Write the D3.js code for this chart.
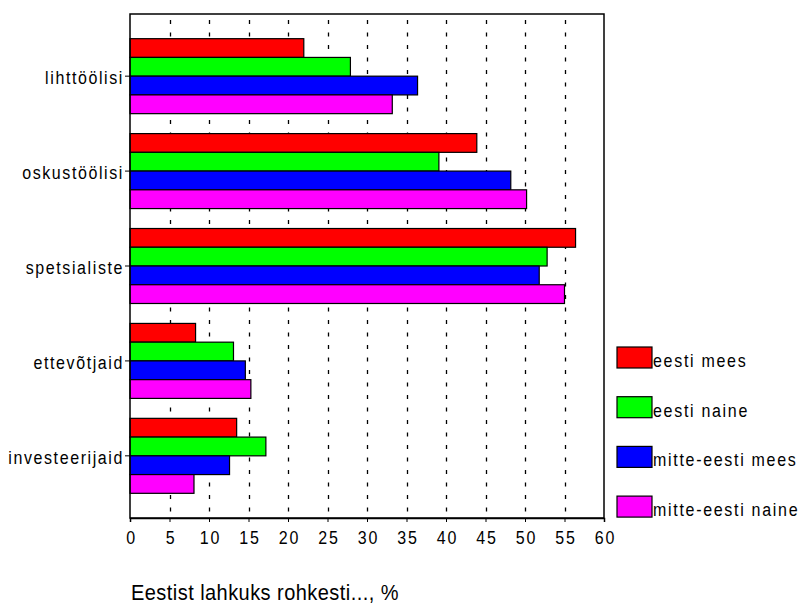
<!DOCTYPE html>
<html>
<head>
<meta charset="utf-8">
<script src="https://cdn.jsdelivr.net/npm/d3@7"></script>
<style>
  body { margin: 0; background: #fff; }
  text { font-family: "Liberation Sans", Arial, sans-serif; fill: #000; }
</style>
</head>
<body>
<svg id="chart"></svg>
<script>
const categories = ['lihttöölisi', 'oskustöölisi', 'spetsialiste', 'ettevõtjaid', 'investeerijaid']
const series = ['eesti mees', 'eesti naine', 'mitte-eesti mees', 'mitte-eesti naine']
const colors = ['#ff0000', '#00ff00', '#0000ff', '#ff00ff']
const eestiMees = [22.0, 43.9, 56.4, 8.3, 13.5]
const eestiNaine = [27.9, 39.1, 52.8, 13.1, 17.2]
const mitteEestiMees = [36.4, 48.2, 51.8, 14.6, 12.6]
const mitteEestiNaine = [33.2, 50.2, 55.0, 15.3, 8.1]
const xTicks = [0, 5, 10, 15, 20, 25, 30, 35, 40, 45, 50, 55, 60]
const xTitle = 'Eestist lahkuks rohkesti..., %'

const values = [eestiMees, eestiNaine, mitteEestiMees, mitteEestiNaine]

const width = 804
const height = 604
const margin = { left: 130, top: 14, right: 200, bottom: 86 }
const font = '"Liberation Sans", Arial, sans-serif'
const stretch = 'scale(1,1.13)' // the original text is drawn a bit tall

const svg = d3.select('#chart').attr('width', width).attr('height', height)

const x = d3.scaleLinear().domain([0, 60]).range([margin.left, width - margin.right + 0])
const y = d3.scaleBand().domain(categories)
  .range([margin.top, height - margin.bottom])
  .paddingInner(0.21).paddingOuter(0.26)
const ySub = d3.scaleBand().domain(series).range([0, y.bandwidth()])

// dashed vertical grid
svg.append('g')
  .selectAll('line')
  .data(xTicks.filter(t => t > 0 && t < 60))
  .enter().append('line')
  .attr('x1', d => Math.round(x(d)) + 0.5)
  .attr('x2', d => Math.round(x(d)) + 0.5)
  .attr('y1', margin.top)
  .attr('y2', height - margin.bottom)
  .attr('stroke', '#000')
  .attr('stroke-width', 1.3)
  .attr('stroke-dasharray', '4,8.5')
  .attr('stroke-dashoffset', -6)

// bars
const groups = svg.append('g')
  .selectAll('g')
  .data(categories)
  .enter().append('g')
  .attr('transform', d => `translate(0,${y(d)})`)

groups.selectAll('rect')
  .data((d, i) => series.map((s, j) => ({ s, j, v: values[j][i] })))
  .enter().append('rect')
  .attr('x', x(0))
  .attr('y', d => ySub(d.s))
  .attr('width', d => x(d.v) - x(0))
  .attr('height', ySub.bandwidth())
  .attr('fill', d => colors[d.j])
  .attr('stroke', '#000')
  .attr('stroke-width', 1.2)

// frame
svg.append('rect')
  .attr('x', x(0))
  .attr('y', margin.top)
  .attr('width', x(60) - x(0))
  .attr('height', height - margin.bottom - margin.top)
  .attr('fill', 'none')
  .attr('stroke', '#000')
  .attr('stroke-width', 1.5)

// x axis
const xAxis = svg.append('g')
  .attr('transform', `translate(0,${height - margin.bottom})`)
  .call(d3.axisBottom(x).tickValues(xTicks).tickSize(4).tickPadding(8))
xAxis.select('.domain').attr('stroke-width', 1.5)
xAxis.selectAll('text')
  .attr('font-size', 16)
  .style('font-family', font)
  .attr('letter-spacing', 1.8)
  .attr('dx', 1)
  .attr('transform', stretch)

// y axis
const yAxis = svg.append('g')
  .attr('transform', `translate(${x(0)},0)`)
  .call(d3.axisLeft(y).tickSize(5).tickPadding(1))
yAxis.select('.domain').remove()
yAxis.selectAll('text')
  .attr('font-size', 16)
  .style('font-family', font)
  .attr('letter-spacing', 1.6)
  .attr('dy', '0.46em')
  .attr('transform', stretch)

// axis title
svg.append('text')
  .attr('transform', `translate(131,600) ${stretch}`)
  .attr('font-size', 20)
  .attr('letter-spacing', 0.45)
  .text(xTitle)

// legend
const legend = svg.append('g')
  .selectAll('g')
  .data(series)
  .enter().append('g')
  .attr('transform', (d, i) => `translate(617,${347 + i * 49.7})`)

legend.append('rect')
  .attr('width', 35)
  .attr('height', 21)
  .attr('fill', (d, i) => colors[i])
  .attr('stroke', '#000')
  .attr('stroke-width', 1.2)

legend.append('text')
  .attr('transform', `translate(36,20) ${stretch}`)
  .attr('font-size', 16)
  .attr('letter-spacing', 1.7)
  .text(d => d)
</script>
</body>
</html>
